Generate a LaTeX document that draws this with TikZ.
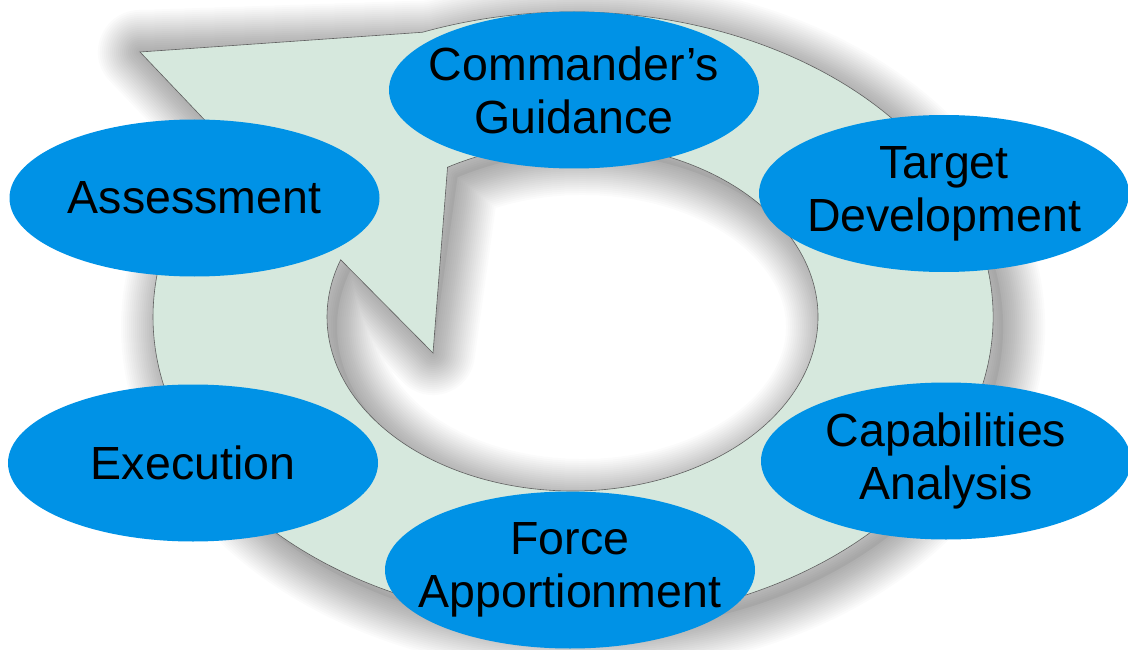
\documentclass[tikz,border=0pt]{standalone}
\usepackage{fontspec}
\setmainfont{Liberation Sans}
\usetikzlibrary{shapes.geometric}
\definecolor{nodeblue}{RGB}{0,146,230}
\definecolor{ringfill}{RGB}{214,232,221}
\definecolor{ringline}{RGB}{95,95,95}
\begin{document}
\begin{tikzpicture}[x=1pt,y=-1pt,
  blob/.style={ellipse, fill=nodeblue, draw=none, minimum width=370pt, minimum height=157pt, inner sep=0pt},
  lbl/.style={align=center, font=\fontsize{46.5}{53}\selectfont, text=black, inner sep=0pt},
  shadowstroke/.style={draw=black, line join=round, fill=none},
]
\useasboundingbox (0,0) rectangle (1128,650);
\fill[white] (0,0) rectangle (1128,650);
\coordinate (oc) at (573,317);
\coordinate (ic) at (572.5,317);
\coordinate (hb) at (140,52);
\coordinate (ib) at (433,353);
\newcommand\ringpath{([shift={(oc)}]-111:420 and 305) arc[start angle=-111, end angle=214.6, x radius=420, y radius=305] -- (hb) -- cycle ([shift={(ic)}]-120.6:245.5 and 174) arc[start angle=-120.6, end angle=199.2, x radius=245.5, y radius=174] -- (ib) -- cycle}
% soft shadow
\begin{scope}[shift={(10,10)}]
  \foreach \w in {84,80,...,4}{
    \draw[shadowstroke, opacity=0.016, line width=\w pt] \ringpath;
  }
  \fill[black, opacity=0.05, even odd rule] \ringpath;
\end{scope}
% ring arrow
\fill[ringfill, even odd rule] \ringpath;
\draw[ringline, line width=0.6pt, line join=miter] \ringpath;
% ellipses
\node[blob] (cg) at (574,90) {};
\node[blob] (td) at (944,193.5) {};
\node[blob] (ca) at (946,461) {};
\node[blob] (fa) at (570,570) {};
\node[blob] (ex) at (193,463) {};
\node[blob] (as) at (194.5,198) {};
% labels
\node[lbl] (cgt) at (cg) {Commander’s\\Guidance};
\node[lbl] (tdt) at (td) {Target\\Development};
\node[lbl] (cat) at (ca) {Capabilities\\Analysis};
\node[lbl] (fat) at (fa) {Force\\Apportionment};
\node[lbl] (ext) at (ex) {Execution};
\node[lbl] (ast) at (as) {Assessment};
\end{tikzpicture}
\end{document}
